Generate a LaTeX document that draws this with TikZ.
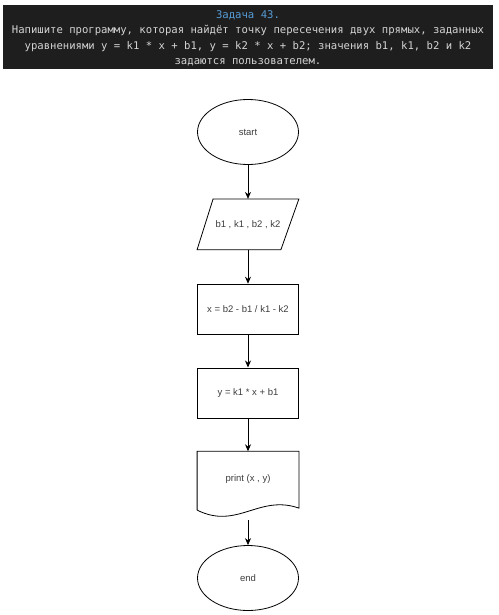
\documentclass[tikz,border=0pt]{standalone}
\usepackage{fontspec}
\setmainfont{Liberation Sans}
\newfontfamily\codefont{DejaVu Sans Mono}
\usetikzlibrary{arrows.meta,positioning,shapes.geometric}

\definecolor{codebg}{HTML}{1E1E1E}
\definecolor{codetext}{HTML}{D4D4D4}
\definecolor{codeblue}{HTML}{569CD6}
\definecolor{flowtext}{HTML}{3C3C3C}

\begin{document}
\begin{tikzpicture}[->,>={Stealth[length=7pt,width=6pt]},node distance=33pt,line width=0.8pt,
  term node/.style={ellipse,draw,minimum width=101pt,minimum height=65pt,inner sep=0pt,
    font=\fontsize{9.5}{11}\selectfont,text=flowtext},
  io node/.style={rectangle,minimum width=101pt,minimum height=50pt,inner sep=0pt,
    font=\fontsize{9.5}{11}\selectfont,text=flowtext},
  calc node/.style={rectangle,draw,minimum width=101pt,minimum height=50pt,inner sep=0pt,
    font=\fontsize{9.5}{11}\selectfont,text=flowtext},
  doc node/.style={rectangle,minimum width=101pt,minimum height=58pt,inner sep=0pt,
    font=\fontsize{9.5}{11}\selectfont,text=flowtext}]

  \useasboundingbox (0,0) rectangle (498pt,-615pt);

  % task header
  \fill[codebg] (3pt,-5pt) rectangle (493pt,-69pt);
  \node[align=center,text=codetext,font=\codefont\fontsize{10.6}{15.5}\selectfont]
    (task) at (248pt,-38.5pt)
    {\textcolor{codeblue}{Задача 43.}\\
     Напишите программу, которая найдёт точку пересечения двух прямых, заданных\\
     уравнениями y = k1 * x + b1, y = k2 * x + b2; значения b1, k1, b2 и k2\\
     задаются пользователем.};

  % flowchart
  \node[term node] (start) at (248pt,-132pt) {start};
  \node[io node] (input) [below=34pt of start] {b1 , k1 , b2 , k2};
  \node[calc node] (xcalc) [below=34pt of input] {x = b2 - b1 / k1 - k2};
  \node[calc node] (ycalc) [below=33pt of xcalc] {y = k1 * x + b1};
  \node[doc node] (print) [below=33pt of ycalc] {\raisebox{5pt}{print (x , y)}};
  \node[term node] (end) [below=35pt of print] {end};

  % input parallelogram
  \draw[-] ([xshift=16pt]input.north west) -- (input.north east)
    -- ([xshift=-18pt]input.south east) -- (input.south west) -- cycle;
  % document shape
  \draw[-] (print.south west) -- (print.north west) -- (print.north east)
    -- ([yshift=2pt]print.south east)
    .. controls ([xshift=-40pt,yshift=16pt]print.south east)
    and ([xshift=40pt,yshift=-20pt]print.south west) .. (print.south west);
  \coordinate (wave) at ([yshift=-10pt]print.south);

  \path
    (start) edge (input)
    (input) edge (xcalc)
    (xcalc) edge (ycalc)
    (ycalc) edge (print)
    (wave) edge (end);

\end{tikzpicture}
\end{document}
